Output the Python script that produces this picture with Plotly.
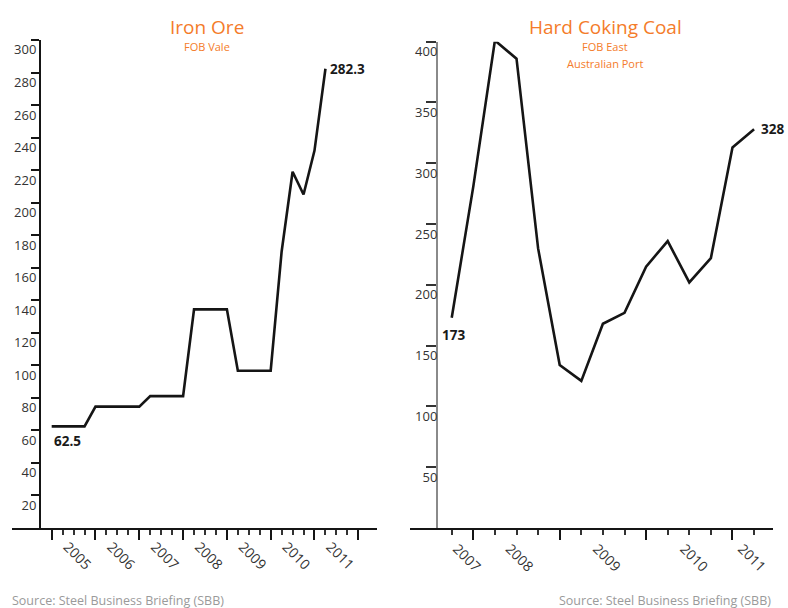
import plotly.graph_objects as go

W, H = 788, 608

# ---------------- data ----------------
iron_quarters = ["2005Q1", "2005Q2", "2005Q3", "2005Q4",
                 "2006Q1", "2006Q2", "2006Q3", "2006Q4",
                 "2007Q1", "2007Q2", "2007Q3", "2007Q4",
                 "2008Q1", "2008Q2", "2008Q3", "2008Q4",
                 "2009Q1", "2009Q2", "2009Q3", "2009Q4",
                 "2010Q1", "2010Q2", "2010Q3", "2010Q4",
                 "2011Q1", "2011Q2"]
iron_values = [62.5, 62.5, 62.5, 62.5,
               74.6, 74.6, 74.6, 74.6,
               74.6, 81.1, 81.1, 81.1,
               81.1, 134.4, 134.4, 134.4,
               134.4, 96.7, 96.7, 96.7,
               96.7, 170, 219, 205,
               232, 282.3]

coal_quarters = ["2007Q4",
                 "2008Q1", "2008Q2", "2008Q3", "2008Q4",
                 "2009Q1", "2009Q2", "2009Q3", "2009Q4",
                 "2010Q1", "2010Q2", "2010Q3", "2010Q4",
                 "2011Q1", "2011Q2"]
coal_values = [173, 281, 401, 386, 230, 134, 121, 168, 177, 215, 236, 202, 222, 313, 328]

iron_year_labels = ["2005", "2006", "2007", "2008", "2009", "2010", "2011"]
iron_label_pos = [2005.36, 2006.36, 2007.36, 2008.36, 2009.36, 2010.36, 2011.36]
iron_year_ticks = [2005, 2006, 2007, 2008, 2009, 2010, 2011, 2012]

coal_year_labels = ["2007", "2008", "2009", "2010", "2011"]
coal_label_pos = [2007.81, 2008.42, 2009.43, 2010.44, 2011.11]
coal_year_ticks = [2008, 2009, 2010, 2011]

iron_yticks = [20, 40, 60, 80, 100, 120, 140, 160, 180, 200, 220, 240, 260, 280, 300]
coal_yticks = [50, 100, 150, 200, 250, 300, 350, 400]


def qnum(s):
    y, q = s.split("Q")
    return int(y) + (int(q) - 1) * 0.25


iron_x = [qnum(s) for s in iron_quarters]
coal_x = [qnum(s) for s in coal_quarters]
iron_minor = [iron_year_ticks[0] + 0.25 * i for i in range(int((iron_year_ticks[-1] - iron_year_ticks[0]) * 4) + 1)]
coal_minor = coal_x


def fx(p):
    return p / W


def fy(p):
    return 1 - p / H


FONT = "Open Sans"
ORANGE = "#F47C2A"
LINE = "#151515"

fig = go.Figure()
fig.add_trace(go.Scatter(x=iron_x, y=iron_values, xaxis="x", yaxis="y", mode="lines",
                         line=dict(color=LINE, width=2.6), showlegend=False, hoverinfo="skip"))
fig.add_trace(go.Scatter(x=iron_x, y=iron_values, xaxis="x3", yaxis="y", mode="lines",
                         line=dict(color="rgba(0,0,0,0)", width=0), showlegend=False, hoverinfo="skip"))
fig.add_trace(go.Scatter(x=coal_x, y=coal_values, xaxis="x2", yaxis="y2", mode="lines",
                         line=dict(color=LINE, width=2.6), showlegend=False, hoverinfo="skip"))
fig.add_trace(go.Scatter(x=coal_x, y=coal_values, xaxis="x4", yaxis="y2", mode="lines",
                         line=dict(color="rgba(0,0,0,0)", width=0), showlegend=False, hoverinfo="skip"))

tickfont = dict(family=FONT, size=13, color="#333333")
xlabfont = dict(family=FONT, size=14, color="#333333")

common_x = dict(showgrid=False, zeroline=False, fixedrange=True)

fig.update_layout(
    width=W, height=H,
    margin=dict(l=0, r=0, t=0, b=0, autoexpand=False),
    paper_bgcolor="white", plot_bgcolor="white",
    showlegend=False,
    xaxis=dict(domain=[fx(12), fx(377)], range=[2004.094, 2012.427], anchor="y",
               showline=True, linecolor=LINE, linewidth=2,
               ticks="outside", tickmode="array", tickvals=iron_year_ticks,
               ticklen=10, tickwidth=1.6, tickcolor=LINE, showticklabels=False,
               minor=dict(tickmode="array", tickvals=iron_minor, ticks="outside",
                          ticklen=5, tickwidth=1.6, tickcolor="#333333", showgrid=False),
               **common_x),
    xaxis3=dict(overlaying="x", range=[2004.094, 2012.427], anchor="y", side="bottom",
                tickmode="array", tickvals=iron_label_pos, ticktext=iron_year_labels,
                ticks="", tickangle=45, ticklabelstandoff=7, showline=False,
                tickfont=xlabfont, **common_x),
    yaxis=dict(domain=[fy(528), fy(40)], range=[0, 300], anchor="free", position=fx(40),
               showline=True, linecolor=LINE, linewidth=2,
               ticks="outside", tickmode="array", tickvals=iron_yticks,
               ticklen=8, tickwidth=1.6, tickcolor=LINE,
               ticklabelposition="outside bottom", ticklabelstandoff=0,
               tickfont=tickfont, showgrid=False, zeroline=False, fixedrange=True),
    xaxis2=dict(domain=[fx(410), fx(773)], range=[2007.267, 2011.469], anchor="y2",
                showline=True, linecolor=LINE, linewidth=2,
                ticks="outside", tickmode="array", tickvals=coal_year_ticks,
                ticklen=10, tickwidth=1.6, tickcolor=LINE, showticklabels=False,
                minor=dict(tickmode="array", tickvals=coal_minor, ticks="outside",
                           ticklen=5, tickwidth=1.6, tickcolor="#333333", showgrid=False),
                **common_x),
    xaxis4=dict(overlaying="x2", range=[2007.267, 2011.469], anchor="y2", side="bottom",
                tickmode="array", tickvals=coal_label_pos, ticktext=coal_year_labels,
                ticks="", tickangle=45, ticklabelstandoff=9, showline=False,
                tickfont=xlabfont, **common_x),
    yaxis2=dict(domain=[fy(528), fy(41.7)], range=[0, 400], anchor="free", position=fx(437),
                showline=True, linecolor="#8a8a8a", linewidth=2,
                ticks="outside", tickmode="array", tickvals=coal_yticks,
                ticklen=10, tickwidth=1.6, tickcolor="#333333",
                ticklabelposition="outside bottom", ticklabelstandoff=-4,
                tickfont=tickfont, showgrid=False, zeroline=False, fixedrange=True),
)

ann = []
# titles
tfont = dict(family=FONT, size=19, color=ORANGE)
sfont = dict(family=FONT, size=11, color=ORANGE)
ann.append(dict(x=fx(207), y=fy(27), xref="paper", yref="paper", xanchor="center", yanchor="middle",
                text="Iron Ore", showarrow=False, font=tfont))
ann.append(dict(x=fx(207), y=fy(47), xref="paper", yref="paper", xanchor="center", yanchor="middle",
                text="FOB Vale", showarrow=False, font=sfont))
ann.append(dict(x=fx(605), y=fy(27), xref="paper", yref="paper", xanchor="center", yanchor="middle",
                text="Hard Coking Coal", showarrow=False, font=tfont))
ann.append(dict(x=fx(605), y=fy(47), xref="paper", yref="paper", xanchor="center", yanchor="middle",
                text="FOB East", showarrow=False, font=sfont))
ann.append(dict(x=fx(605), y=fy(63), xref="paper", yref="paper", xanchor="center", yanchor="middle",
                text="Australian Port", showarrow=False, font=sfont))
# sources
src_font = dict(family=FONT, size=12.5, color="#9a9a9a")
ann.append(dict(x=fx(10), y=fy(600), xref="paper", yref="paper", xanchor="left", yanchor="middle",
                text="Source: Steel Business Briefing (SBB)", showarrow=False, font=src_font))
ann.append(dict(x=fx(773), y=fy(600), xref="paper", yref="paper", xanchor="right", yanchor="middle",
                text="Source: Steel Business Briefing (SBB)", showarrow=False, font=src_font))
# value labels
vfont = dict(family=FONT, size=13.5, color="#1a1a1a")
ann.append(dict(x=iron_x[0], y=iron_values[0], xref="x", yref="y", xanchor="left", yanchor="top",
                xshift=0, yshift=-4, text="<b>%s</b>" % iron_values[0], showarrow=False, font=vfont))
ann.append(dict(x=iron_x[-1], y=iron_values[-1], xref="x", yref="y", xanchor="left", yanchor="middle",
                xshift=3, yshift=0, text="<b>%s</b>" % iron_values[-1], showarrow=False, font=vfont))
ann.append(dict(x=coal_x[0], y=coal_values[0], xref="x2", yref="y2", xanchor="center", yanchor="top",
                xshift=2, yshift=-6, text="<b>%s</b>" % coal_values[0], showarrow=False, font=vfont))
ann.append(dict(x=coal_x[-1], y=coal_values[-1], xref="x2", yref="y2", xanchor="left", yanchor="middle",
                xshift=5, yshift=0, text="<b>%s</b>" % coal_values[-1], showarrow=False, font=vfont))

fig.update_layout(annotations=ann)

fig.write_html("out.html", config={"displayModeBar": False},
               post_script="document.body.style.margin='0';document.body.style.overflow='hidden';")
